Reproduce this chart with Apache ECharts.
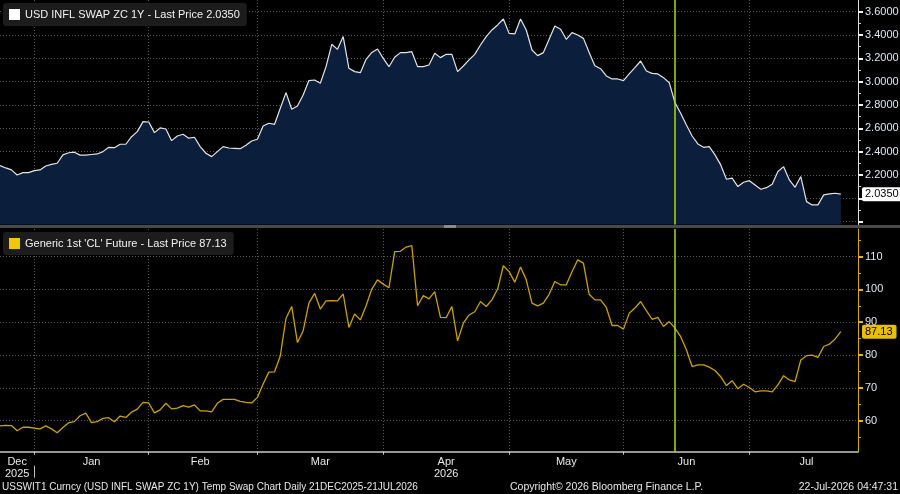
<!DOCTYPE html>
<html>
<head>
<meta charset="utf-8">
<title>USD INFL SWAP ZC 1Y vs CL1</title>
<script src="https://cdn.jsdelivr.net/npm/echarts@6.0.0/dist/echarts.min.js"></script>
<style>
  html, body { margin: 0; padding: 0; background: #000; }
  #chart { width: 900px; height: 494px; }
</style>
</head>
<body>
<div id="chart"></div>
<script>
// trading days shown on the x axis (last three are empty, axis runs past the data)
const decDays = [22, 23, 24, 26, 29, 30];
const janDays = [2, 5, 6, 7, 8, 9, 12, 13, 14, 15, 16, 20, 21, 22, 23, 26, 27, 28, 29, 30];
const febDays = [2, 3, 4, 5, 6, 9, 10, 11, 12, 13, 17, 18, 19, 20, 23, 24, 25, 26, 27];
const marDays = [2, 3, 4, 5, 6, 9, 10, 11, 12, 13, 16, 17, 18, 19, 20, 23, 24, 25, 26, 27, 30, 31];
const aprDays = [1, 2, 3, 6, 7, 8, 9, 10, 13, 14, 15, 16, 17, 20, 21, 22, 23, 24, 27, 28, 29, 30];
const mayDays = [1, 4, 5, 6, 7, 8, 11, 12, 13, 14, 15, 18, 19, 20, 21, 22, 26, 27, 28, 29];
const junDays = [1, 2, 3, 4, 5, 8, 9, 10, 11, 12, 15, 16, 17, 18, 19, 22, 23, 24, 25, 26, 29, 30];
const julDays = [1, 2, 6, 7, 8, 9, 10, 13, 14, 15, 16, 17, 20, 21, 22, 23, 24, 27, 28, 29];

const monthNames = ['Jan', 'Feb', 'Mar', 'Apr', 'May', 'Jun', 'Jul', 'Aug', 'Sep', 'Oct', 'Nov', 'Dec'];
const yearRow = { '2025-12': '2025', '2026-04': '2026' };

const topName = 'USD INFL SWAP ZC 1Y';
const botName = "Generic 1st 'CL' Future";

const topValues = [
    2.280, 2.260, 2.243, 2.200, 2.220, 2.220, 2.237, 2.243, 2.277, 2.290,
    2.300, 2.372, 2.390, 2.395, 2.370, 2.370, 2.375, 2.380, 2.400, 2.437,
    2.434, 2.463, 2.463, 2.528, 2.571, 2.657, 2.654, 2.563, 2.603, 2.594,
    2.494, 2.534, 2.549, 2.515, 2.523, 2.443, 2.386, 2.357, 2.400, 2.443,
    2.431, 2.428, 2.425, 2.454, 2.491, 2.506, 2.620, 2.643, 2.634, 2.772,
    2.906, 2.763, 2.791, 2.886, 3.009, 3.014, 2.986, 3.129, 3.320, 3.277,
    3.386, 3.114, 3.086, 3.077, 3.191, 3.250, 3.280, 3.200, 3.128, 3.209,
    3.249, 3.249, 3.257, 3.129, 3.129, 3.143, 3.243, 3.206, 3.234, 3.234,
    3.086, 3.134, 3.186, 3.234, 3.314, 3.386, 3.443, 3.486, 3.537, 3.414,
    3.409, 3.537, 3.443, 3.271, 3.223, 3.249, 3.363, 3.477, 3.449, 3.363,
    3.420, 3.400, 3.371, 3.249, 3.137, 3.111, 3.049, 3.023, 3.023, 3.009,
    3.066, 3.120, 3.177, 3.091, 3.071, 3.066, 3.034, 2.991, 2.820, 2.729,
    2.629, 2.534, 2.466, 2.437, 2.443, 2.372, 2.286, 2.163, 2.172, 2.100,
    2.137, 2.151, 2.114, 2.077, 2.091, 2.120, 2.229, 2.271, 2.157, 2.094,
    2.186, 1.971, 1.943, 1.943, 2.029, 2.037, 2.043, 2.035
];

const botValues = [
    58.4, 58.6, 58.5, 56.95, 58.0, 58.0, 57.7, 57.5, 58.4, 57.5,
    56.3, 57.9, 59.4, 59.7, 61.5, 62.3, 59.4, 59.7, 60.7, 60.9,
    59.7, 61.4, 61.0, 62.6, 63.5, 65.6, 65.4, 62.4, 63.3, 65.3,
    63.6, 63.8, 64.6, 64.1, 64.8, 63.0, 63.0, 62.7, 65.3, 66.5,
    66.5, 66.5, 65.9, 65.6, 65.4, 67.1, 71.2, 74.8, 74.9, 79.7,
    91.2, 94.8, 83.8, 87.4, 95.8, 98.8, 94.0, 96.5, 96.6, 96.5,
    98.6, 88.4, 92.5, 90.7, 95.0, 100.1, 102.9, 101.6, 100.5, 111.5,
    111.6, 112.9, 113.3, 95.0, 98.1, 97.1, 99.3, 91.5, 91.4, 94.8,
    84.3, 89.7, 92.2, 93.2, 96.3, 94.8, 96.8, 100.1, 107.2, 105.4,
    102.2, 106.8, 102.9, 95.8, 95.0, 95.8, 98.5, 102.4, 101.4, 101.4,
    105.4, 109.0, 108.0, 98.5, 96.8, 96.8, 94.5, 89.0, 89.0, 87.9,
    92.7, 94.3, 96.3, 93.5, 90.9, 91.5, 88.7, 90.2, 88.2, 85.6,
    81.6, 76.5, 77.0, 77.0, 76.3, 75.3, 73.4, 70.7, 72.2, 69.7,
    71.1, 70.1, 68.8, 69.1, 69.1, 68.8, 70.9, 73.7, 72.4, 71.9,
    78.5, 79.8, 80.0, 79.3, 82.6, 83.3, 84.9, 87.13
];

// tick / label values on the right axes
const topTicks = [1.8, 2.0, 2.2, 2.4, 2.6, 2.8, 3.0, 3.2, 3.4, 3.6];
const topLabels = [2.2, 2.4, 2.6, 2.8, 3.0, 3.2, 3.4, 3.6];
const topMinor = [1.9, 2.1, 2.3, 2.5, 2.7, 2.9, 3.1, 3.3, 3.5];
const botTicks = [60, 70, 80, 90, 100, 110];
const botLabels = [60, 70, 80, 90, 100, 110];
const botMinor = [55, 65, 75, 85, 95, 105, 115];

const eventDate = '2026-06-12';

const FONT = '"Liberation Sans", Arial, sans-serif';

function pad(n) { return (n < 10 ? '0' : '') + n; }

const dates = [];
[[2025, 12, decDays], [2026, 1, janDays], [2026, 2, febDays], [2026, 3, marDays],
 [2026, 4, aprDays], [2026, 5, mayDays], [2026, 6, junDays], [2026, 7, julDays]]
    .forEach(([y, m, days]) => days.forEach(d => dates.push(y + '-' + pad(m) + '-' + pad(d))));

// month boundaries, year break and mid-month label positions
const monthStart = new Set();
const yearBreak = new Set();
const monthRange = {};
dates.forEach((d, i) => {
    const key = d.slice(0, 7);
    if (i > 0 && key !== dates[i - 1].slice(0, 7)) monthStart.add(i);
    if (i > 0 && d.slice(0, 4) !== dates[i - 1].slice(0, 4)) yearBreak.add(i);
    if (!monthRange[key]) monthRange[key] = [i, i];
    monthRange[key][1] = i;
});
const labelIdx = new Set(Object.values(monthRange).map(r => Math.round((r[0] + r[1]) / 2)));

const lastTop = topValues[topValues.length - 1];
const lastBot = botValues[botValues.length - 1];

const gridLine = { color: 'rgba(150,150,150,0.6)', type: [1, 2], width: 1 };
const axisText = { color: '#dfe6ef', fontSize: 11, fontFamily: FONT };

// last price tag drawn as a label on the secondary (minor tick) axis
function priceTag(value, text, bg) {
    return {
        show: true, customValues: [value], margin: 4, formatter: () => text,
        backgroundColor: bg, color: '#000', padding: [2, 4, 1, 3], borderRadius: 2,
        fontSize: 11, fontFamily: FONT
    };
}

const chart = echarts.init(document.getElementById('chart'));

chart.setOption({
    backgroundColor: '#000',
    animation: false,
    grid: [
        { left: 0, right: 42, top: 0, height: 224.5, outerBoundsMode: 'none' },
        { left: 0, right: 42, top: 229, height: 222.7, outerBoundsMode: 'none' }
    ],
    legend: [
        {
            data: [topName], left: 3, top: 3, icon: 'rect', itemWidth: 11, itemHeight: 11,
            padding: [6, 7, 6, 6], backgroundColor: '#1c1c1c', borderRadius: 3, selectedMode: false,
            textStyle: { color: '#f2f2f2', fontSize: 11, fontFamily: FONT },
            formatter: name => name + ' - Last Price ' + lastTop.toFixed(4)
        },
        {
            data: [botName], left: 3, top: 232, icon: 'rect', itemWidth: 11, itemHeight: 11,
            padding: [6, 7, 6, 6], backgroundColor: '#1c1c1c', borderRadius: 3, selectedMode: false,
            textStyle: { color: '#f2f2f2', fontSize: 11, fontFamily: FONT },
            formatter: name => name + ' - Last Price ' + lastBot.toFixed(2)
        }
    ],
    xAxis: [
        {
            type: 'category', gridIndex: 0, position: 'bottom', data: dates, boundaryGap: false,
            axisLine: { show: false }, axisTick: { show: false }, axisLabel: { show: false },
            splitLine: { show: true, interval: i => monthStart.has(i), lineStyle: gridLine }
        },
        {
            type: 'category', gridIndex: 1, position: 'bottom', data: dates, boundaryGap: false,
            axisLine: { show: true, lineStyle: { color: '#c8c8c8', width: 1.5 } },
            axisTick: { show: true, interval: i => monthStart.has(i), length: 3, lineStyle: { color: '#c8c8c8' } },
            axisLabel: { show: false },
            splitLine: { show: true, interval: i => monthStart.has(i), lineStyle: gridLine }
        },
        {
            type: 'category', gridIndex: 1, position: 'bottom', data: dates, boundaryGap: false,
            axisLine: { show: false }, axisTick: { show: false }, splitLine: { show: false },
            axisLabel: {
                show: true, interval: i => labelIdx.has(i), margin: 4, lineHeight: 12,
                color: '#e8e8e8', fontSize: 11, fontFamily: FONT,
                formatter: v => {
                    const key = v.slice(0, 7);
                    const m = monthNames[+v.slice(5, 7) - 1];
                    return yearRow[key] ? m + '\n' + yearRow[key] : m;
                }
            }
        },
        {
            type: 'category', gridIndex: 1, position: 'bottom', data: dates, boundaryGap: false, offset: 14,
            axisLine: { show: false }, axisLabel: { show: false }, splitLine: { show: false },
            axisTick: { show: true, interval: i => yearBreak.has(i), length: 12, lineStyle: { color: '#bdbdbd' } }
        }
    ],
    yAxis: [
        {
            type: 'value', gridIndex: 0, position: 'right', min: 1.775, max: 3.70,
            axisLine: { show: true, lineStyle: { color: '#e0e0e0' } },
            axisTick: { show: true, customValues: topTicks, length: 5, lineStyle: { color: '#eeeeee', width: 2 } },
            axisLabel: Object.assign({ customValues: topLabels, margin: 7, formatter: v => v.toFixed(4) }, axisText),
            splitLine: { show: true, lineStyle: gridLine }
        },
        {
            type: 'value', gridIndex: 0, position: 'right', min: 1.775, max: 3.70,
            axisLine: { show: false }, splitLine: { show: false },
            axisTick: { show: true, customValues: topMinor, length: 3, lineStyle: { color: '#cfcfcf' } },
            axisLabel: priceTag(lastTop, lastTop.toFixed(4), '#ffffff')
        },
        {
            type: 'value', gridIndex: 1, position: 'right', min: 50.55, max: 118.4,
            axisLine: { show: true, lineStyle: { color: '#d4ab00' } },
            axisTick: { show: true, customValues: botTicks, length: 5, lineStyle: { color: '#e0b800', width: 2 } },
            axisLabel: Object.assign({ customValues: botLabels, margin: 7 }, axisText),
            splitLine: { show: true, lineStyle: gridLine }
        },
        {
            type: 'value', gridIndex: 1, position: 'right', min: 50.55, max: 118.4,
            axisLine: { show: false }, splitLine: { show: false },
            axisTick: { show: true, customValues: botMinor, length: 3, lineStyle: { color: '#d4ab00' } },
            axisLabel: priceTag(lastBot, lastBot.toFixed(2), '#e8c000')
        }
    ],
    series: [
        {
            name: topName, type: 'line', xAxisIndex: 0, yAxisIndex: 0, data: topValues,
            symbol: 'none', itemStyle: { color: '#ffffff' },
            lineStyle: { color: '#e4e4e4', width: 1.2 },
            areaStyle: { color: '#0b1f3d', opacity: 1, origin: 'start' },
            markLine: {
                silent: true, symbol: ['none', 'none'], label: { show: false },
                lineStyle: { color: '#a6dc12', width: 1.5, type: 'solid' },
                data: [{ xAxis: eventDate }]
            }
        },
        {
            name: botName, type: 'line', xAxisIndex: 1, yAxisIndex: 2, data: botValues,
            symbol: 'none', itemStyle: { color: '#f2c600' },
            lineStyle: { color: '#c9a200', width: 1.3 },
            markLine: {
                silent: true, symbol: ['none', 'none'], label: { show: false },
                lineStyle: { color: '#a6dc12', width: 1.5, type: 'solid' },
                data: [{ xAxis: eventDate }]
            }
        }
    ],
    graphic: [
        { type: 'rect', z: 100, shape: { x: 0, y: 225, width: 900, height: 3 }, style: { fill: '#4a4a4a' } },
        { type: 'rect', z: 101, shape: { x: 444, y: 225, width: 12, height: 3 }, style: { fill: '#8a8a8a' } },
        {
            type: 'text', z: 100, style: {
                text: 'USSWIT1 Curncy (USD INFL SWAP ZC 1Y) Temp Swap Chart Daily 21DEC2025-21JUL2026',
                x: 2, y: 487, fill: '#e8e8e8', font: '10px ' + FONT, verticalAlign: 'middle', textVerticalAlign: 'middle'
            }
        },
        {
            type: 'text', z: 100, style: {
                text: 'Copyright\u00a9 2026 Bloomberg Finance L.P.',
                x: 510, y: 487, fill: '#e8e8e8', font: '10.5px ' + FONT, verticalAlign: 'middle', textVerticalAlign: 'middle'
            }
        },
        {
            type: 'text', z: 100, style: {
                text: '22-Jul-2026 04:47:31',
                x: 898, y: 487, fill: '#e8e8e8', font: '10.5px ' + FONT,
                align: 'right', textAlign: 'right', verticalAlign: 'middle', textVerticalAlign: 'middle'
            }
        }
    ]
});
</script>
</body>
</html>
